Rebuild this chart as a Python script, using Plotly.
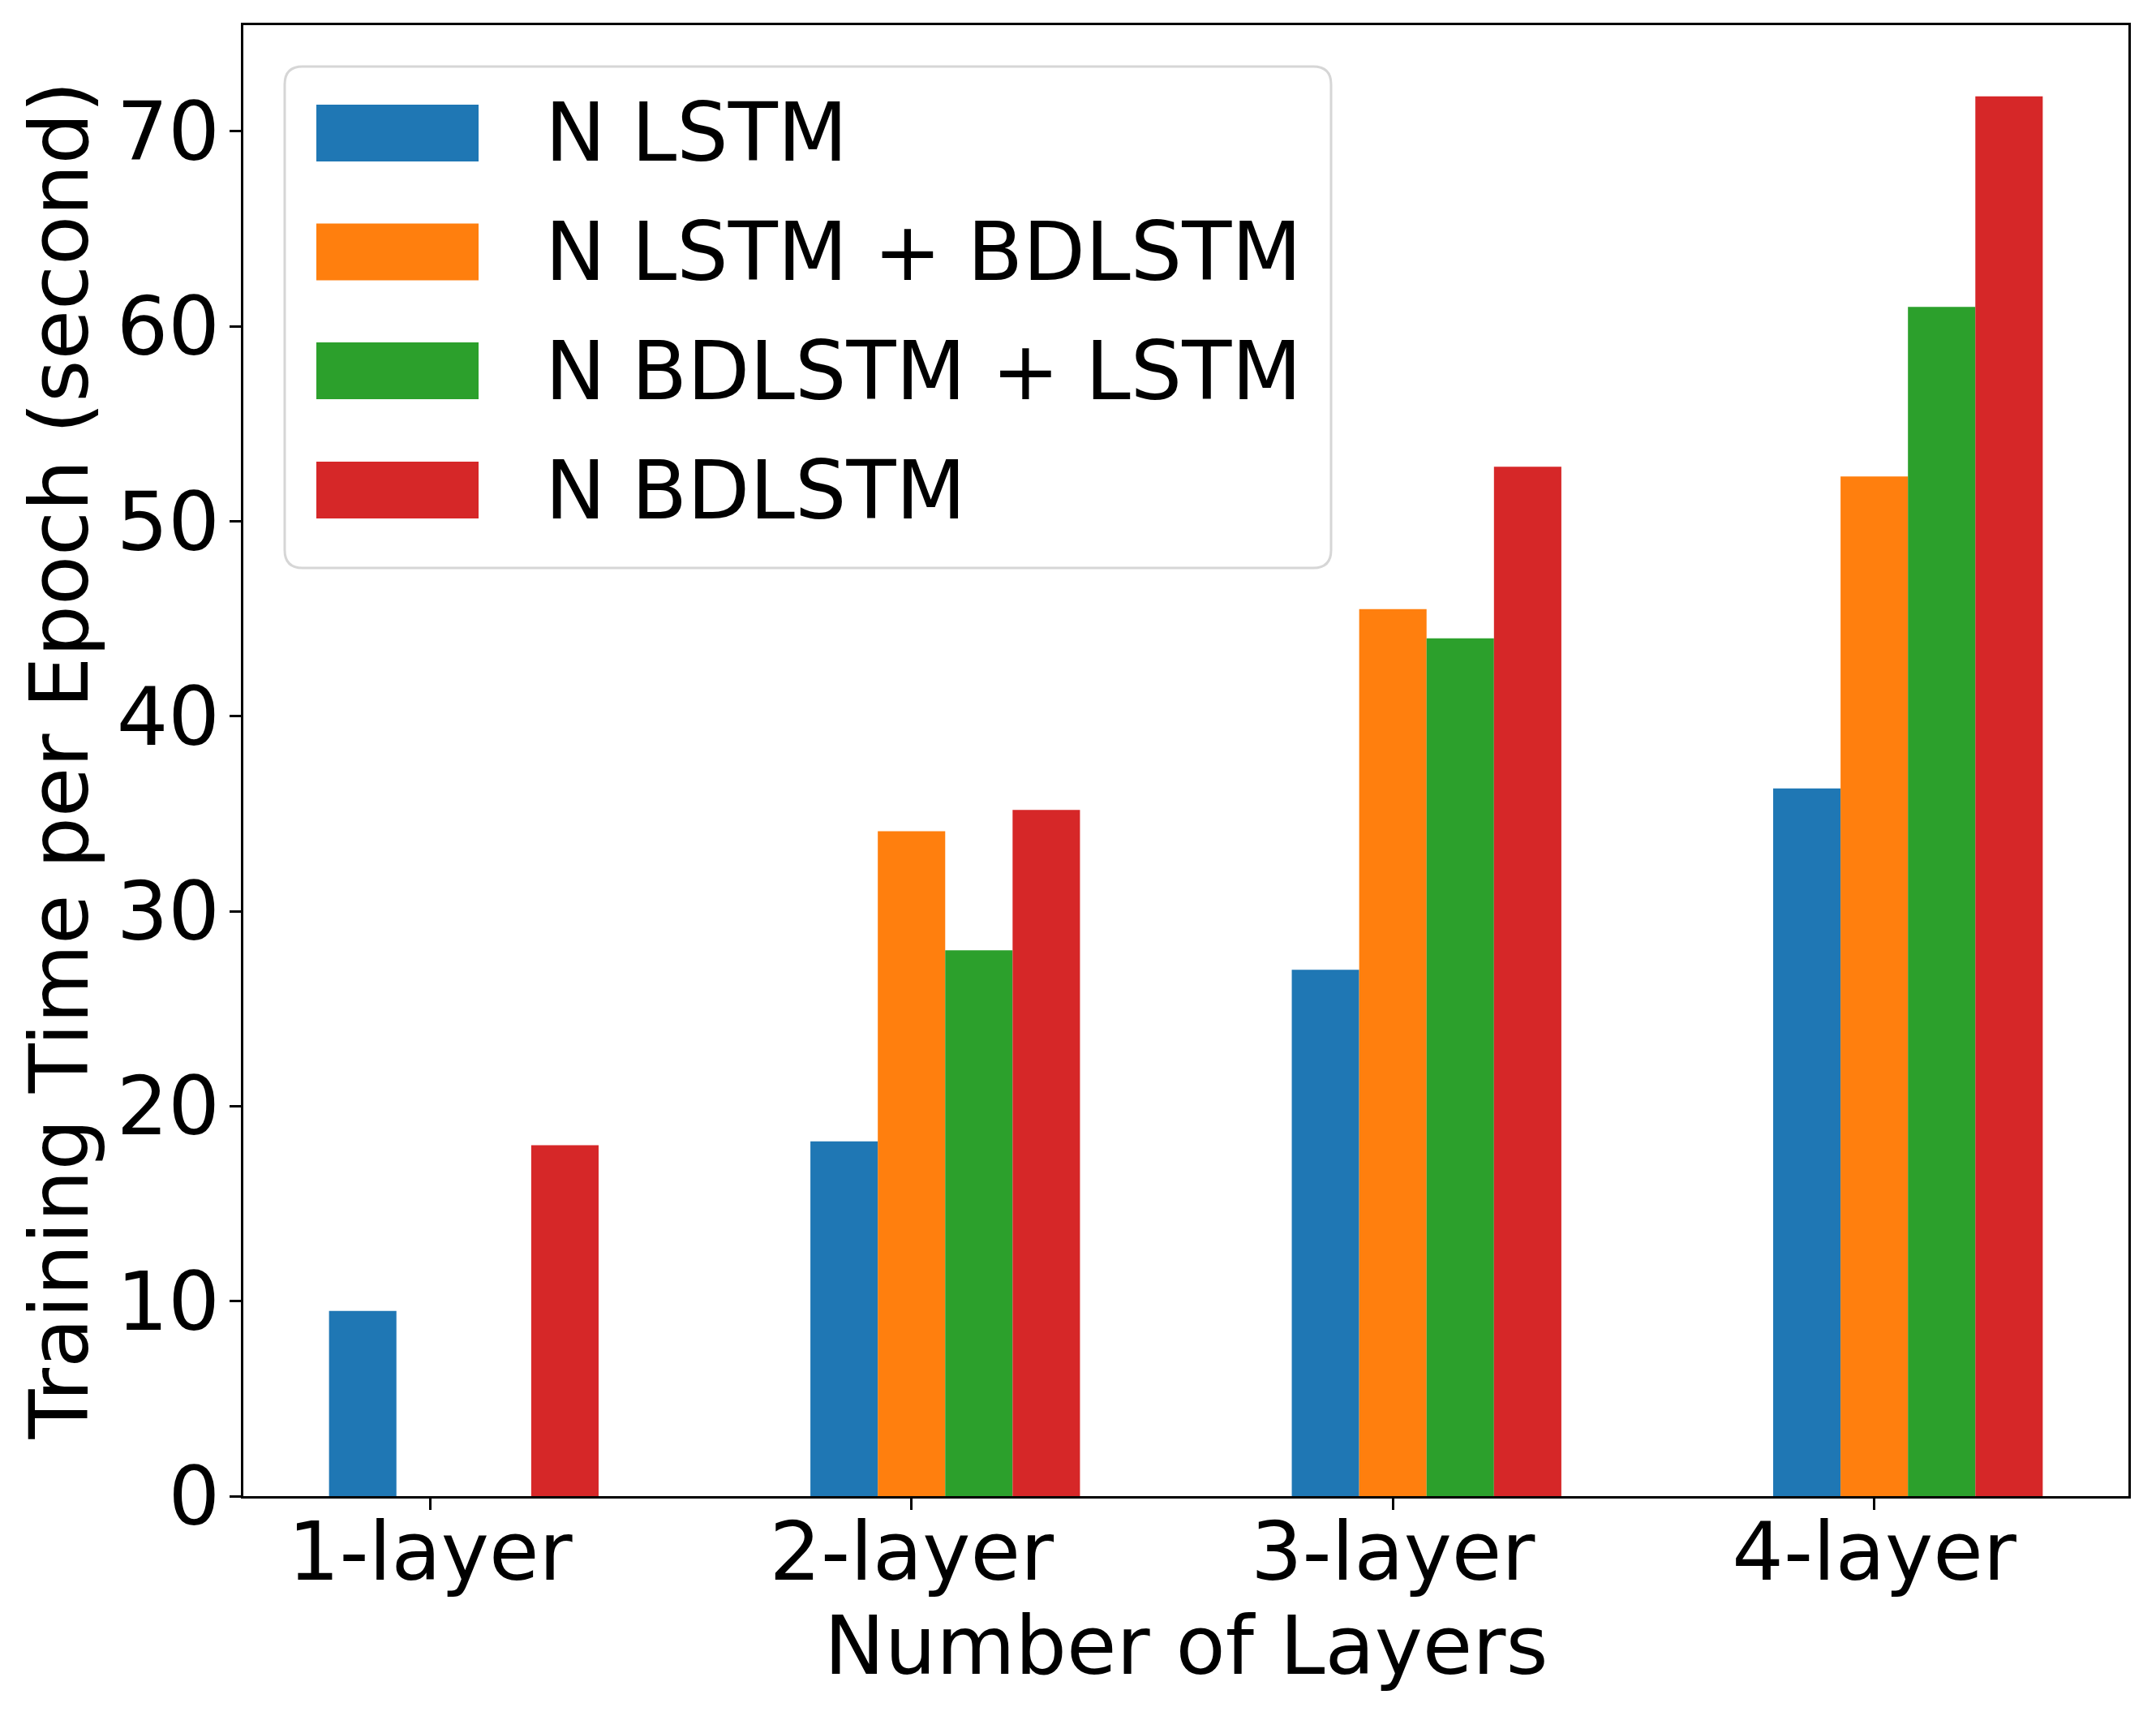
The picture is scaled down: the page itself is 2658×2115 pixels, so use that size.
import plotly.graph_objects as go

# ---- data ----
categories = ["1-layer", "2-layer", "3-layer", "4-layer"]
series_names = ["N LSTM", "N LSTM + BDLSTM", "N BDLSTM + LSTM", "N BDLSTM"]
n_lstm = [9.5, 18.2, 27.0, 36.3]
n_lstm_bdlstm = [None, 34.1, 45.5, 52.3]
n_bdlstm_lstm = [None, 28.0, 44.0, 61.0]
n_bdlstm = [18.0, 35.2, 52.8, 71.8]
y_ticks = [0, 10, 20, 30, 40, 50, 60, 70]

colors = ["#1f77b4", "#ff7f0e", "#2ca02c", "#d62728"]
series = [n_lstm, n_lstm_bdlstm, n_bdlstm_lstm, n_bdlstm]

OFF = 8  # page body margin
W, H = 2650, 2107
L, R, T, B = 300 - OFF, 2624 - OFF, 31 - OFF, 1844 - OFF
FONT = "DejaVu Sans"
FS = 100

bw = 0.14
offsets = [-0.21, -0.07, 0.07, 0.21]
xpos = list(range(len(categories)))

fig = go.Figure()
for name, vals, c, off in zip(series_names, series, colors, offsets):
    fig.add_trace(go.Bar(x=xpos, y=vals, name=name, width=bw, offset=off,
                         marker=dict(color=c, line=dict(width=0)), showlegend=False))


def px2paper(px, py):
    # px, py in page coordinates
    px -= OFF
    py -= OFF
    return (px - L) / (R - L), (B - py) / (B - T)


def P(x, y):
    a, b = px2paper(x, y)
    return f"{a:.5f},{b:.5f}"


# custom legend (matplotlib-style, large patches)
lx0, lx1, ly0, ly1, rad = 351, 1641, 82, 700, 22
path = (f"M{P(lx0 + rad, ly0)} L{P(lx1 - rad, ly0)} Q{P(lx1, ly0)} {P(lx1, ly0 + rad)} "
        f"L{P(lx1, ly1 - rad)} Q{P(lx1, ly1)} {P(lx1 - rad, ly1)} "
        f"L{P(lx0 + rad, ly1)} Q{P(lx0, ly1)} {P(lx0, ly1 - rad)} "
        f"L{P(lx0, ly0 + rad)} Q{P(lx0, ly0)} {P(lx0 + rad, ly0)} Z")
shapes = [dict(type="path", xref="paper", yref="paper", path=path,
               fillcolor="rgba(255,255,255,0.8)", line=dict(color="#d6d6d6", width=3))]
annotations = []
centers = [164, 310.5, 457, 604]
for name, c, cy in zip(series_names, colors, centers):
    x0, y0 = px2paper(390, cy - 35)
    x1, y1 = px2paper(590, cy + 35)
    shapes.append(dict(type="rect", xref="paper", yref="paper", x0=x0, x1=x1, y0=y1, y1=y0,
                       fillcolor=c, line=dict(width=0)))
    tx, ty = px2paper(670, cy)
    annotations.append(dict(text=name, x=tx, y=ty, xref="paper", yref="paper",
                            xanchor="left", yanchor="middle", showarrow=False,
                            font=dict(family=FONT, size=FS, color="black")))

# axis titles
ax, ay = px2paper(73, (31 + 1844) / 2)
annotations.append(dict(text="Training Time per Epoch (second)", x=ax, y=ay, xref="paper",
                        yref="paper", xanchor="center", yanchor="middle", textangle=-90,
                        showarrow=False, font=dict(family=FONT, size=FS, color="black")))
bx, by = px2paper((300 + 2624) / 2, 2028)
annotations.append(dict(text="Number of Layers", x=bx, y=by, xref="paper", yref="paper",
                        xanchor="center", yanchor="middle", showarrow=False,
                        font=dict(family=FONT, size=FS, color="black")))

fig.update_layout(
    width=W, height=H,
    margin=dict(l=L, r=W - R, t=T, b=H - B, pad=0),
    paper_bgcolor="white", plot_bgcolor="white",
    barmode="overlay",
    font=dict(family=FONT, size=FS, color="black"),
    shapes=shapes, annotations=annotations,
    xaxis=dict(range=[-0.388, 3.528], tickvals=xpos, ticktext=categories,
               showline=True, linecolor="black", linewidth=3, mirror=True,
               ticks="outside", ticklen=14, tickwidth=3, tickcolor="black",
               ticklabelstandoff=-34,
               showgrid=False, zeroline=False, automargin=False,
               tickfont=dict(family=FONT, size=FS, color="black")),
    yaxis=dict(range=[0, 75.45], tickvals=y_ticks,
               showline=True, linecolor="black", linewidth=3, mirror=True,
               ticks="outside", ticklen=14, tickwidth=3, tickcolor="black",
               ticklabelstandoff=-8,
               showgrid=False, zeroline=False, automargin=False,
               tickfont=dict(family=FONT, size=FS, color="black")),
)

fig.write_html("out.html")
